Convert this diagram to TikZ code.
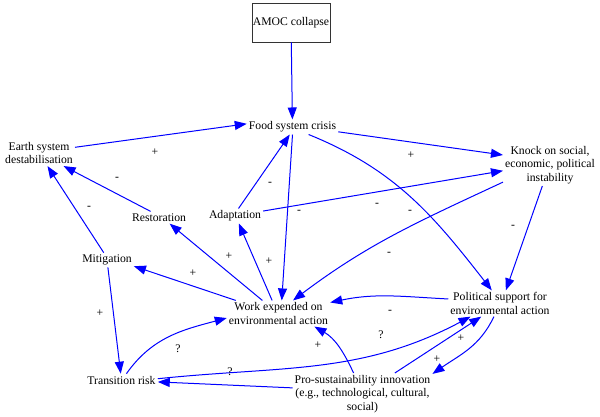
\documentclass[tikz,border=0pt]{standalone}
\usepackage{fontspec}
\setmainfont{Liberation Serif}
\usetikzlibrary{arrows.meta}
\definecolor{edgeblue}{RGB}{0,0,255}
\begin{document}
\begin{tikzpicture}[x=1pt,y=1pt,
  every node/.style={font=\fontsize{11.7}{13.5}\selectfont, align=center, inner sep=2pt},
  lbl/.style={inner sep=0pt},
  edge/.style={draw=edgeblue, line width=1pt, -{Triangle[length=12pt,width=9pt]}},
  box/.style={draw=black!80, line width=0.6pt, minimum width=78pt, minimum height=39pt, inner sep=0pt}]
\fill[white] (0,0) rectangle (600,-417);
\useasboundingbox (0,0) rectangle (600,-417);

% nodes
\node[box] (amoc) at (291,-22.5) {AMOC collapse};
\node (food)  at (292.5,-127) {Food system crisis};
\node (earth) at (39,-153) {Earth system\\destabilisation};
\node (knock) at (550,-165) {Knock on social,\\economic, political\\instability};
\node (rest)  at (159,-217.5) {Restoration};
\node (adapt) at (235,-216) {Adaptation};
\node (mitig) at (107,-260) {Mitigation};
\node (work)  at (278.5,-313.5) {Work expended on\\environmental action};
\node (pol)   at (500,-303.5) {Political support for\\environmental action};
\node (trans) at (121.5,-380) {Transition risk};
\node (pro)   at (362.5,-394) {Pro-sustainability innovation\\(e.g., technological, cultural,\\social)};

% connectors
\draw[edge] (amoc) -- (food);
\draw[edge] (earth.9) -- (food.176) node[lbl] at (155,-152) {+};
\draw[edge] (food.-6) -- (knock.168) node[lbl] at (411,-155) {+};
\draw[edge] (food.-25) to[out=-22,in=128] (pol.122) node[lbl] at (410,-212) {-};
\draw[edge] (food.south) -- (work.76) node[lbl] at (299,-212) {-};
\draw[edge] (knock.250) -- (pol.66) node[lbl] at (513,-227) {-};
\draw[edge] (knock.200) to[out=205,in=37] (work.42) node[lbl] at (389,-254) {-};
\draw[edge] (adapt.10) -- (knock.187) node[lbl] at (377,-205) {-};
\draw[edge] (adapt.65) -- (food.-110) node[lbl] at (270,-184) {-};
\draw[edge] (rest.144) -- (earth.-28) node[lbl] at (117,-179) {-};
\draw[edge] (mitig.114) -- (earth.-57) node[lbl] at (89,-208) {-};
\draw[edge] (mitig) -- (trans) node[lbl] at (100,-313) {+};
\draw[edge] (work.163) -- (mitig.-13) node[lbl] at (193,-273) {+};
\draw[edge] (work.141) -- (rest.-30) node[lbl] at (229,-256) {+};
\draw[edge] (work.116) -- (adapt.-63) node[lbl] at (269,-261) {+};
\draw[edge] (pol.175) to[out=177,in=12] (work.12) node[lbl] at (390,-312) {-};
\draw[edge] (pol.245) to[out=245,in=35] (pro.16) node[lbl] at (437,-359) {+};
\draw[edge] (pro.33) -- (pol.215) node[lbl] at (461,-338) {+};
\draw[edge] (pro.113) to[out=115,in=-30] (work.-20) node[lbl] at (318,-345) {+};
\draw[edge] (trans.52) to[out=55,in=195] (work.185) node[lbl] at (178,-349) {?};
\draw[edge] (trans.2) to[out=6,in=208] (pol.204) node[lbl] at (381,-335) {?};
\draw[edge] (pro.175) -- (trans.-3) node[lbl] at (230,-372) {?};
\end{tikzpicture}
\end{document}
